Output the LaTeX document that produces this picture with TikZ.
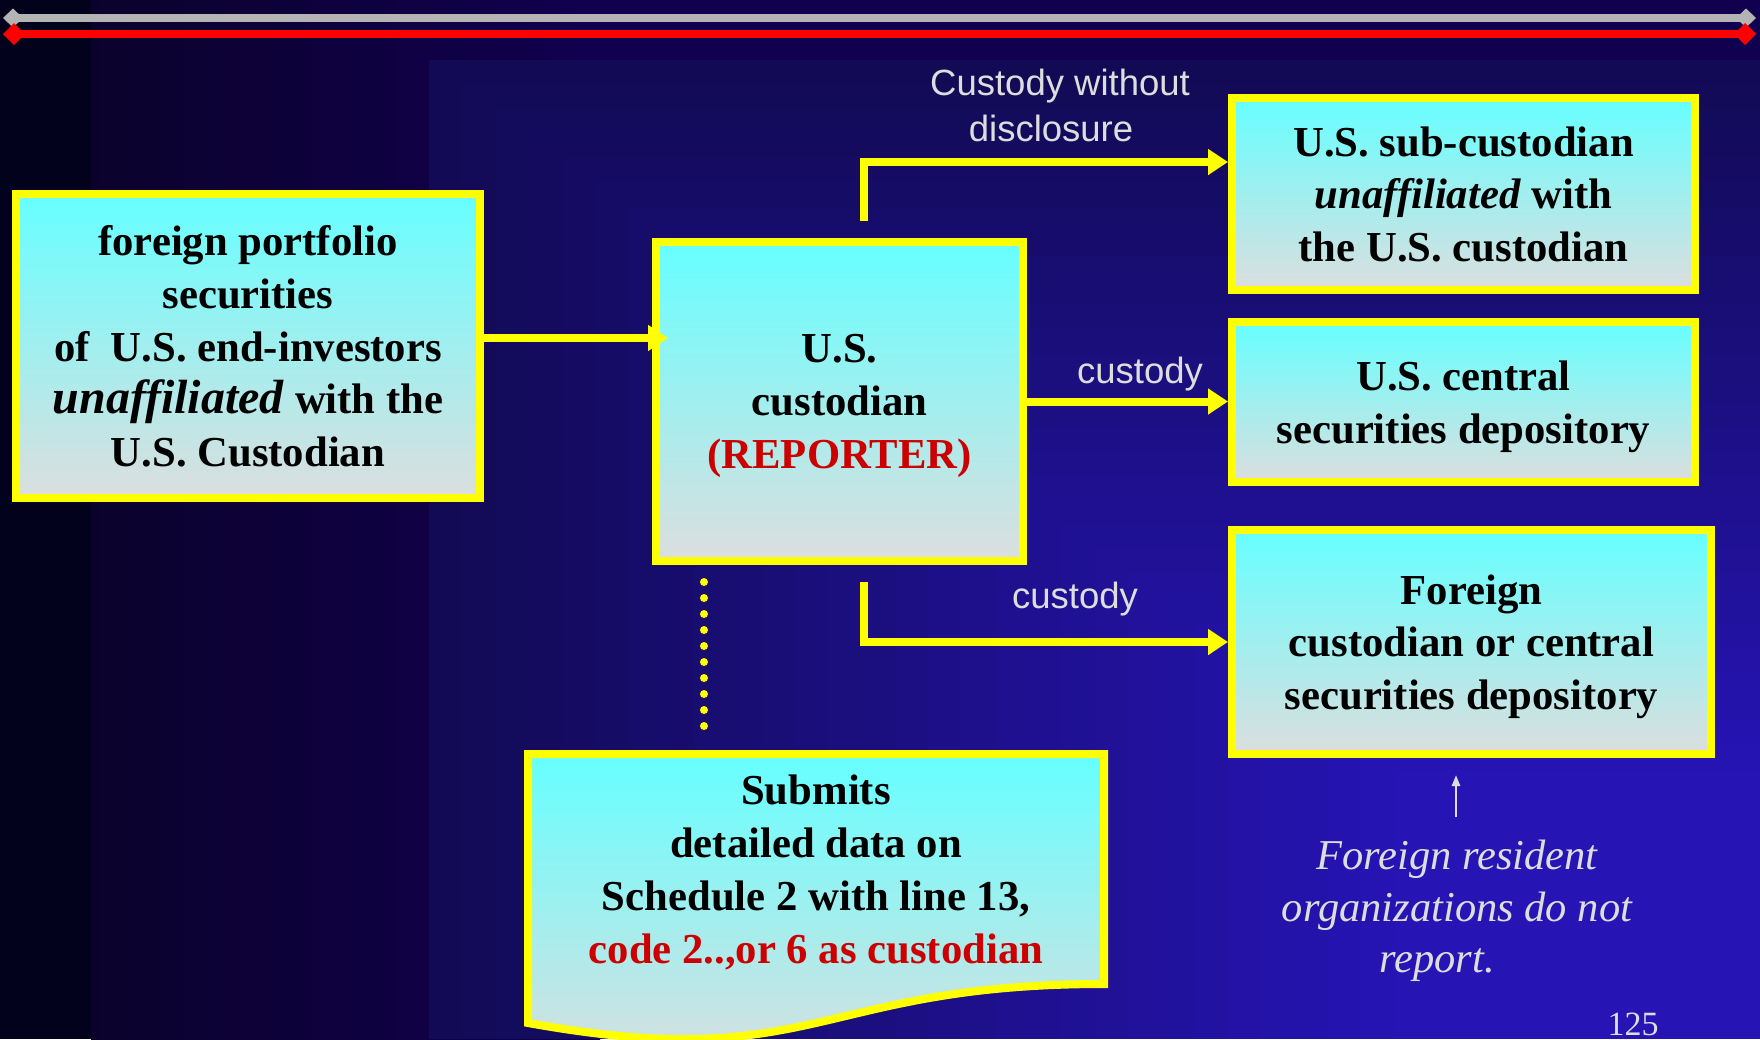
\documentclass[tikz,border=0pt]{standalone}
\usepackage{fontspec}
\setmainfont{Liberation Serif}
\setsansfont{Liberation Sans}
\usetikzlibrary{arrows.meta,positioning}

\definecolor{boxyellow}{HTML}{FFFF00}
\definecolor{boxtop}{HTML}{66FFFF}
\definecolor{boxbot}{HTML}{DCDEDE}
\definecolor{repred}{HTML}{CC0000}
\definecolor{labelgrey}{HTML}{DDDDDD}
\definecolor{rulegrey}{HTML}{B4B4B4}
\definecolor{rulered}{HTML}{FF0000}
\definecolor{bgdark}{HTML}{02021C}
\definecolor{bgleft}{HTML}{0B022C}
\definecolor{bgbase}{HTML}{110050}
\definecolor{bgpanel}{HTML}{120A55}
\definecolor{bgglow}{HTML}{2614B4}

\tikzset{
  boxtext/.style={inner sep=0pt, align=center, text=black, text depth=-17pt,
    font=\bfseries\fontsize{42.7}{52.8}\selectfont},
  box/.style={boxtext, draw=boxyellow, line width=8pt,
    top color=boxtop, bottom color=boxbot},
  link/.style={draw=boxyellow, line width=8pt,
    -{Triangle[length=20pt,width=25pt]}},
  dotline/.style={draw=boxyellow, line width=8pt, line cap=round,
    dash pattern=on 0pt off 16pt},
  lbl/.style={text=labelgrey, inner sep=0pt, align=center,
    font=\sffamily\fontsize{36.5}{46}\selectfont},
  remarktext/.style={text=labelgrey, inner sep=0pt, align=center,
    font=\itshape\fontsize{42.5}{51.5}\selectfont},
  pointer/.style={draw=labelgrey, line width=2.5pt,
    -{Triangle[length=11pt,width=8pt]}},
}

\begin{document}
\begin{tikzpicture}[x=1pt, y=-1pt]
  \useasboundingbox (0,0) rectangle (1760,1039);

  % background
  \fill[bgbase] (0,0) rectangle (1760,1039);
  \shade[left color=bgleft, right color=bgbase] (91,0) rectangle (600,1039);
  \fill[bgdark] (0,0) rectangle (91,1039);
  \foreach \k in {0,...,40}{
    \pgfmathsetmacro\mix{min(100,\k*3.5)}
    \fill[bgglow!\mix!bgpanel] (429+\k*33.275,60+\k*24.475) rectangle (1760,1039);
  }

  % title rules
  \draw[rulegrey, line width=8pt,
    {Diamond[length=20pt,width=19pt]}-{Diamond[length=20pt,width=19pt]}] (3,18) -- (1756,18);
  \draw[rulered, line width=8pt,
    {Diamond[length=22pt,width=22pt]}-{Diamond[length=22pt,width=22pt]}] (3,34) -- (1756,34);

  % boxes
  \node[box, minimum width=464pt, minimum height=304pt] (inv) at (248,346)
    {foreign portfolio\\ securities\\ of~~U.S. end-investors\\
     {\fontsize{48}{52.8}\selectfont\textit{unaffiliated}} with the\\ U.S. Custodian};
  \node[box, text depth=-16pt, minimum width=367pt, minimum height=319pt] (cust) at (839.5,401.5)
    {U.S.\\ custodian\\ \textcolor{repred}{(REPORTER)}};
  \node[box, minimum width=463pt, minimum height=192pt] (sub) at (1463.5,194)
    {U.S. sub-custodian\\ \textit{unaffiliated} with\\ the U.S. custodian};
  \node[box, text depth=-8pt, minimum width=463pt, minimum height=160pt] (csd) at (1463.5,402)
    {U.S. central\\ securities depository};
  \node[box, text depth=-8pt, minimum width=479pt, minimum height=224pt] (fgn) at (1471.5,642)
    {Foreign\\ custodian or central\\ securities depository};

  % document shape
  \shade[draw=boxyellow, line width=8pt, line join=miter, top color=boxtop, bottom color=boxbot]
    (528,754) -- (1104,754) -- (1104,984) .. controls (816,984) and (816,1075) .. (528,1023) -- cycle;
  \node[boxtext, text depth=-21pt, minimum width=576pt, minimum height=230pt] (doc) at (816,869)
    {Submits\\ detailed data on\\ Schedule 2 with line 13,\\
     \textcolor{repred}{code 2..,or 6 as custodian}};

  % connectors
  \draw[link, shorten >=-16pt] ([yshift=8pt]inv.east) -- ([yshift=8pt]inv.east -| cust.west);
  \draw[link] ([xshift=24.5pt,yshift=17pt]cust.north) |- ([yshift=32pt]sub.west);
  \draw[link] (cust.east) -- (cust.east -| csd.west);
  \draw[link] ([xshift=24.5pt,yshift=-17pt]cust.south) |- (fgn.west);
  \draw[dotline] ([xshift=-135.5pt,yshift=-17pt]cust.south) -- ([xshift=-112pt,yshift=16pt]doc.north);

  % labels
  \node[lbl] (lblsub) at (1060,105) {Custody without\\ disclosure\hspace*{18pt}};
  \node[lbl, anchor=base] (lblcsd) at (1140,383) {custody};
  \node[lbl, anchor=base] (lblfgn) at (1075,608) {custody};

  % remark
  \node[remarktext] (remark) at (1457,911)
    {Foreign resident\\ organizations do not\\ report.\hspace*{40pt}};
  \coordinate (tail) at (1456,817);
  \draw[pointer, shorten >=17pt] (tail) -- (tail |- fgn.south);

  \node[text=labelgrey, inner sep=0pt, anchor=base, font=\fontsize{34}{40}\selectfont]
    (page) at (1633,1035) {125};
\end{tikzpicture}
\end{document}
